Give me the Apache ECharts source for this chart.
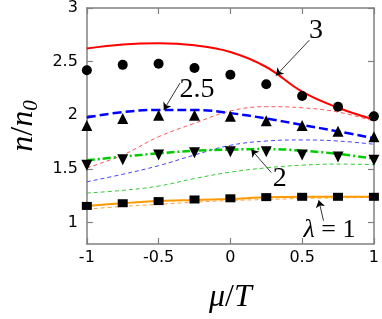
<!DOCTYPE html>
<html><head><meta charset="utf-8">
<script src="https://cdn.jsdelivr.net/npm/echarts@6/dist/echarts.min.js"></script>
<style>html,body{margin:0;padding:0;background:#fff}#c{width:382px;height:319px}</style>
</head><body><div id="c"></div>
<script>
const mu = [-1, -0.75, -0.5, -0.25, 0, 0.25, 0.5, 0.75, 1];
const yTicks = [1, 1.5, 2, 2.5, 3];
const xTicks = [-1, -0.5, 0, 0.5, 1];
// thick model curves
const line3   = [2.623, 2.66, 2.672, 2.652, 2.59, 2.45, 2.22, 2.07, 1.96];
const line25  = [1.98, 2.03, 2.05, 2.05, 2.02, 1.97, 1.91, 1.85, 1.785];
const line2   = [1.58, 1.615, 1.645, 1.67, 1.68, 1.685, 1.67, 1.64, 1.595];
const line1   = [1.155, 1.18, 1.2, 1.21, 1.22, 1.235, 1.24, 1.24, 1.24];
// thin dashed curves
const thin3   = [1.51, 1.63, 1.8, 1.925, 2.04, 2.08, 2.07, 2.03, 1.945];
const thin25  = [1.38, 1.45, 1.53, 1.63, 1.72, 1.76, 1.77, 1.76, 1.73];
const thin2   = [1.275, 1.3, 1.34, 1.41, 1.47, 1.51, 1.535, 1.545, 1.54];
const thin1   = [1.125, 1.15, 1.17, 1.19, 1.205, 1.215, 1.225, 1.23, 1.235];
// markers
const dots3   = [2.42, 2.47, 2.48, 2.44, 2.377, 2.29, 2.18, 2.08, 1.99];
const tri25   = [1.905, 1.97, 2.0, 2.0, 1.99, 1.95, 1.905, 1.85, 1.80];
const itri2   = [1.535, 1.585, 1.63, 1.65, 1.66, 1.66, 1.63, 1.61, 1.58];
const sq1     = [1.155, 1.18, 1.20, 1.215, 1.226, 1.237, 1.24, 1.24, 1.24];
// annotations: [label, textX, textY, fromX, fromY, toX, toY]
const notes = [
  ['3', 0.596, 2.785, 0.55, 2.70, 0.318, 2.37],
  ['2.5', -0.232, 2.24, -0.351, 2.30, -0.464, 2.05],
  ['2', 0.344, 1.405, 0.285, 1.466, 0.146, 1.68],
  ['lam', 0.69, 0.925, 0.649, 1.017, 0.616, 1.207]
];

const pts = a => mu.map((m, i) => [m, a[i]]);
const chart = echarts.init(document.getElementById('c'));
const axisCommon = {
  type: 'value',
  axisLine: {show: true, onZero: false, lineStyle: {color: '#808080', width: 1.5}},
  axisTick: {show: true, inside: true, length: 6, lineStyle: {color: '#808080', width: 1.2}},
  splitLine: {show: false}
};
function lineSeries(data, color, width, type, z) {
  return {type: 'line', data: pts(data), smooth: 0.4, symbol: 'none', z: z || 2,
    lineStyle: {color: color, width: width, type: type}};
}
function markerSeries(data, symbol, size, rot) {
  return {type: 'scatter', data: pts(data), symbol: symbol, symbolSize: size, symbolRotate: rot || 0,
    itemStyle: {color: '#000', opacity: 1}, z: 5};
}
const series = [
  lineSeries(thin3, '#ff5555', 1, [4, 3]),
  lineSeries(thin25, '#4444ff', 1, [4, 3]),
  lineSeries(thin2, '#33cc33', 1, [4, 3]),
  lineSeries(thin1, '#ffa040', 1, [4, 3]),
  lineSeries(line3, '#ff0000', 2, 'solid', 3),
  lineSeries(line25, '#0000ff', 2.5, [9, 4], 3),
  lineSeries(line2, '#00cc00', 2.5, [8, 3, 2, 3], 3),
  lineSeries(line1, '#ff9900', 2, 'solid', 3),
  markerSeries(dots3, 'circle', 10),
  markerSeries(tri25, 'triangle', 11),
  markerSeries(itri2, 'triangle', 11, 180),
  markerSeries(sq1, 'rect', [10, 8])
];
// annotation arrows
notes.forEach(n => {
  series.push({type: 'lines', coordinateSystem: 'cartesian2d', z: 6,
    symbol: ['none', 'arrow'], symbolSize: 7,
    lineStyle: {color: '#000', width: 0.8, opacity: 1},
    data: [{coords: [[n[3], n[4]], [n[5], n[6]]]}]});
});
const tickFont = {fontFamily: 'DejaVu Sans, sans-serif', fontSize: 16, color: '#000'};
chart.setOption({
  animation: false,
  grid: {left: 74, right: 6, top: 8, bottom: 59},
  xAxis: [
    Object.assign({}, axisCommon, {min: -1, max: 1, position: 'bottom',
      axisTick: Object.assign({}, axisCommon.axisTick, {customValues: xTicks}),
      axisLabel: Object.assign({customValues: xTicks, margin: 6, formatter: v => String(v)}, tickFont),
      name: '{i|μ}{n|/}{i|T}', nameLocation: 'middle', nameGap: 38,
      nameTextStyle: {color: '#000', rich: {i: {fontFamily: 'Liberation Serif', fontStyle: 'italic', fontSize: 32, color: '#000'},
        n: {fontFamily: 'Liberation Serif', fontSize: 32, color: '#000'}}}}),
    Object.assign({}, axisCommon, {min: -1, max: 1, position: 'top',
      axisTick: Object.assign({}, axisCommon.axisTick, {customValues: xTicks}),
      axisLabel: {show: false}})
  ],
  yAxis: [
    Object.assign({}, axisCommon, {min: 0.8, max: 3, position: 'left',
      axisTick: Object.assign({}, axisCommon.axisTick, {customValues: yTicks}),
      axisLabel: Object.assign({customValues: yTicks, margin: 9, formatter: v => String(v)}, tickFont),
      name: '{i|n}{n|/}{i|n}{s|0}', nameLocation: 'middle', nameGap: 44, nameRotate: 90,
      nameTextStyle: {color: '#000', rich: {i: {fontFamily: 'Liberation Serif', fontStyle: 'italic', fontSize: 32, color: '#000'},
        n: {fontFamily: 'Liberation Serif', fontSize: 32, color: '#000'},
        s: {fontFamily: 'Liberation Serif', fontStyle: 'italic', fontSize: 21, color: '#000', padding: [14, 0, 0, 0]}}}}),
    Object.assign({}, axisCommon, {min: 0.8, max: 3, position: 'right',
      axisTick: Object.assign({}, axisCommon.axisTick, {customValues: yTicks}),
      axisLabel: {show: false}})
  ],
  series: series
});
// annotation texts positioned in data coordinates
const g = notes.map(n => {
  const p = chart.convertToPixel({xAxisIndex: 0, yAxisIndex: 0}, [n[1], n[2]]);
  const isLam = n[0] === 'lam';
  const fs = isLam ? 26 : 28;
  return {type: 'text', x: p[0], y: p[1], z: 10,
    style: {text: isLam ? '{i|λ} = 1' : n[0], fill: '#000', align: 'center', verticalAlign: 'middle',
      fontFamily: 'Liberation Serif', fontSize: fs,
      rich: {i: {fontFamily: 'Liberation Serif', fontStyle: 'italic', fontSize: fs}}}};
});
chart.setOption({graphic: g});
</script></body></html>
